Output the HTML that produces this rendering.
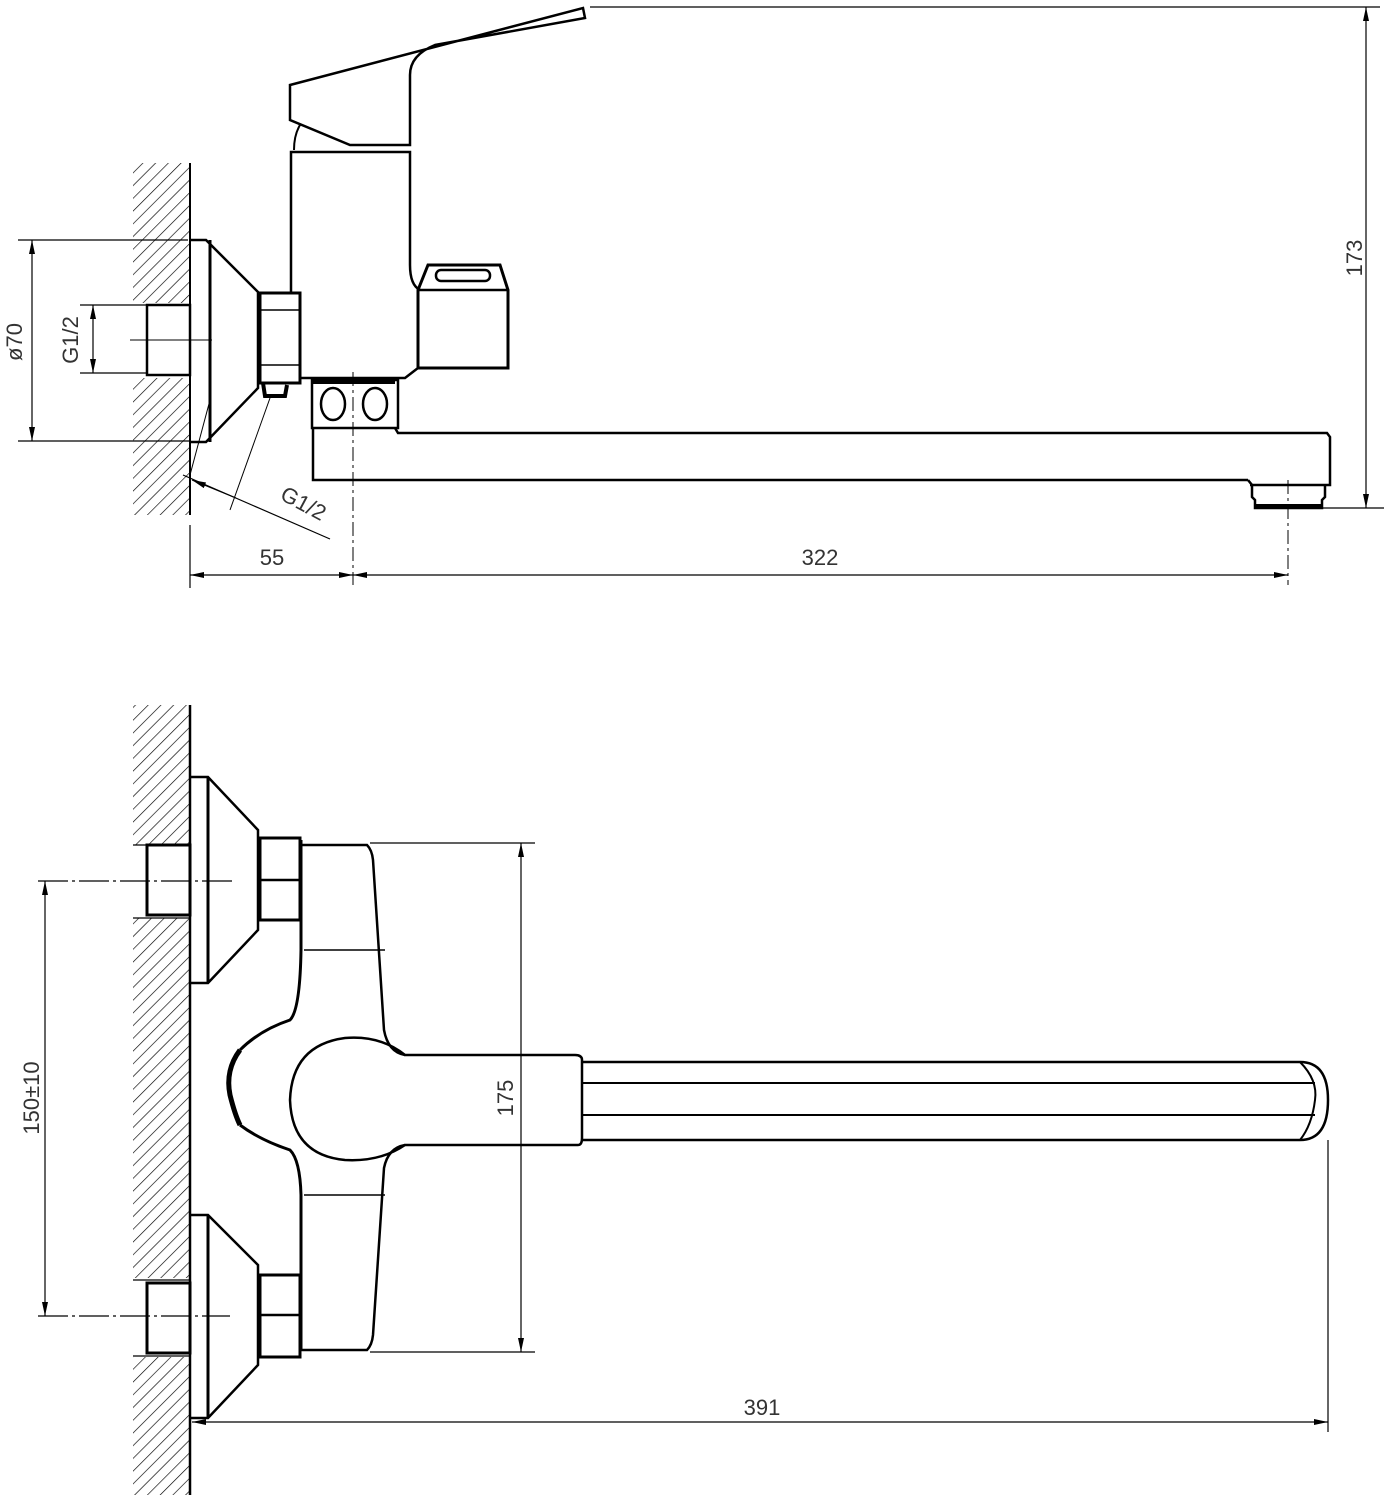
<!DOCTYPE html>
<html><head><meta charset="utf-8"><style>html,body{margin:0;padding:0;background:#fff}svg{display:block}</style></head>
<body>
<svg width="1393" height="1500" viewBox="0 0 1393 1500" xmlns="http://www.w3.org/2000/svg" font-family="Liberation Sans, sans-serif">
<defs>
<pattern id="h" patternUnits="userSpaceOnUse" width="9" height="9" patternTransform="rotate(45)">
<line x1="0" y1="0" x2="0" y2="9" stroke="#000" stroke-width="1.3"/>
</pattern>
<marker id="a" markerWidth="14" markerHeight="8" refX="14" refY="4" orient="auto" markerUnits="userSpaceOnUse"><path d="M0,1 L14,4 L0,7 z" fill="#000"/></marker>
<marker id="b" markerWidth="14" markerHeight="8" refX="0" refY="4" orient="auto" markerUnits="userSpaceOnUse"><path d="M14,1 L0,4 L14,7 z" fill="#000"/></marker>
</defs>
<g fill="none" stroke="#000">
<!-- TOP VIEW -->
<rect x="133" y="163" width="57" height="140" fill="url(#h)" stroke="none"/>
<rect x="133" y="378" width="57" height="137" fill="url(#h)" stroke="none"/>
<line x1="190" y1="163" x2="190" y2="515" stroke-width="2"/>
<rect x="147" y="305" width="43" height="70" stroke-width="2.5"/>
<line x1="130" y1="340" x2="212" y2="340" stroke-width="1"/>
<path d="M190,240 H206 L258,292 V388 L206,442 H190" stroke-width="2.5"/>
<line x1="210" y1="240" x2="210" y2="442" stroke-width="3"/>
<rect x="260" y="293" width="40" height="90" stroke-width="3"/>
<line x1="260" y1="310" x2="300" y2="310" stroke-width="1.5"/>
<line x1="260" y1="365" x2="300" y2="365" stroke-width="1.5"/>
<path d="M263,383 L265,396 L285,396 L287,385" stroke-width="4"/>
<path d="M291,293 V152 H410 V265 Q410,285 420,290" stroke-width="2.5"/>
<path d="M300,378 H405 L418,368" stroke-width="2.5"/>
<path d="M290,85 L583,8 L585,18 L435,45 Q410,55 410,75 V145 H350 L290,120 Z" stroke-width="2.5"/>
<path d="M300,125 Q294,135 294,150" stroke-width="2"/>
<path d="M418,290 L428,265 H500 L508,290 V368 H418 Z" stroke-width="3"/>
<line x1="418" y1="290" x2="508" y2="290" stroke-width="2.5"/>
<rect x="436" y="270" width="54" height="11" rx="5" stroke-width="2.5"/>
<rect x="312" y="380" width="86" height="48" stroke-width="2.5"/>
<line x1="313" y1="382" x2="395" y2="382" stroke-width="4"/>
<ellipse cx="333" cy="404" rx="12" ry="16" stroke-width="2.5"/>
<ellipse cx="375" cy="404" rx="12" ry="16" stroke-width="2.5"/>
<line x1="353" y1="372" x2="353" y2="585" stroke-width="1" stroke-dasharray="14,4,3,4"/>
<path d="M395,428 L398,433 H1327 L1330,437 V485 H1250" stroke-width="2.5"/>
<path d="M313,428 V480 H1248" stroke-width="2.5"/>
<path d="M1248,480 L1252,485 V497 L1255,500 V508 H1322 V500 L1325,497 V485" stroke-width="2.5"/>
<line x1="1255" y1="506" x2="1322" y2="506" stroke-width="4"/>
<line x1="1288" y1="480" x2="1288" y2="585" stroke-width="1" stroke-dasharray="14,4,3,4"/>
<line x1="590" y1="7" x2="1380" y2="7" stroke-width="1.2"/>
<line x1="1322" y1="508" x2="1384" y2="508" stroke-width="1.2"/>
<line x1="1366" y1="7" x2="1366" y2="508" stroke-width="1.2" marker-start="url(#b)" marker-end="url(#a)"/>
<line x1="18" y1="240" x2="188" y2="240" stroke-width="1.2"/>
<line x1="18" y1="441" x2="190" y2="441" stroke-width="1.2"/>
<line x1="32" y1="240" x2="32" y2="441" stroke-width="1.2" marker-start="url(#b)" marker-end="url(#a)"/>
<line x1="80" y1="305" x2="147" y2="305" stroke-width="1.2"/>
<line x1="80" y1="373" x2="147" y2="373" stroke-width="1.2"/>
<line x1="93" y1="305" x2="93" y2="373" stroke-width="1.2" marker-start="url(#b)" marker-end="url(#a)"/>
<line x1="183" y1="475" x2="330" y2="539" stroke-width="1.2"/>
<line x1="210" y1="400" x2="190" y2="475" stroke-width="1"/>
<line x1="270" y1="398" x2="230" y2="510" stroke-width="1"/>
<line x1="236" y1="498" x2="192" y2="480" stroke-width="1.2" marker-end="url(#a)"/>
<line x1="190" y1="525" x2="190" y2="588" stroke-width="1.2"/>
<line x1="190" y1="575" x2="353" y2="575" stroke-width="1.2" marker-start="url(#b)" marker-end="url(#a)"/>
<line x1="353" y1="575" x2="1288" y2="575" stroke-width="1.2" marker-start="url(#b)" marker-end="url(#a)"/>

<!-- BOTTOM VIEW -->
<rect x="133" y="705" width="57" height="140" fill="url(#h)" stroke="none"/>
<rect x="133" y="918" width="57" height="360" fill="url(#h)" stroke="none"/>
<rect x="133" y="1357" width="57" height="138" fill="url(#h)" stroke="none"/>
<line x1="190" y1="705" x2="190" y2="1495" stroke-width="2.5"/>
<rect x="147" y="845" width="43" height="70" stroke-width="3"/>
<rect x="147" y="1283" width="43" height="70" stroke-width="3"/>
<line x1="133" y1="845" x2="190" y2="845" stroke-width="1.2"/>
<line x1="133" y1="918" x2="190" y2="918" stroke-width="1.2"/>
<line x1="133" y1="1280" x2="190" y2="1280" stroke-width="1.2"/>
<line x1="133" y1="1356" x2="190" y2="1356" stroke-width="1.2"/>
<path d="M190,777 H208 L258,830 V930 L208,983 H190" stroke-width="2.5"/>
<line x1="208" y1="777" x2="208" y2="983" stroke-width="3"/>
<path d="M190,1215 H208 L258,1265 V1365 L208,1418 H190" stroke-width="2.5"/>
<line x1="208" y1="1215" x2="208" y2="1418" stroke-width="3"/>
<rect x="260" y="838" width="40" height="82" stroke-width="3"/>
<line x1="260" y1="880" x2="300" y2="880" stroke-width="2.5"/>
<rect x="260" y="1275" width="40" height="82" stroke-width="3"/>
<line x1="260" y1="1315" x2="300" y2="1315" stroke-width="2.5"/>
<path d="M301,840 V950 Q300,1010 290,1020 Q260,1030 240,1050" stroke-width="3"/>
<path d="M301,1350 V1195 Q300,1160 290,1150 Q260,1140 240,1125" stroke-width="3"/>
<path d="M240,1050 Q225,1070 230,1095 Q235,1115 240,1125" stroke-width="5"/>
<path d="M301,845 H367 Q372,850 373,860 L384,1030 Q388,1052 405,1055" stroke-width="2.5"/>
<path d="M301,1350 H367 Q372,1345 373,1335 L384,1168 Q388,1148 405,1145" stroke-width="2.5"/>
<line x1="304" y1="950" x2="385" y2="950" stroke-width="1.5"/>
<line x1="304" y1="1195" x2="385" y2="1195" stroke-width="1.5"/>
<path d="M405,1055 Q380,1035 345,1038 Q292,1045 290,1100 Q292,1155 345,1160 Q380,1162 405,1145 H578 Q582,1145 582,1138 V1060 Q582,1055 575,1055 Z" stroke-width="2.5"/>
<path d="M582,1062 H1300 Q1328,1062 1328,1100 Q1328,1140 1300,1140 H582" stroke-width="2.5"/>
<path d="M1300,1062 Q1318,1080 1315,1100 Q1312,1125 1300,1140" stroke-width="2"/>
<line x1="582" y1="1083" x2="1315" y2="1083" stroke-width="2"/>
<line x1="582" y1="1115" x2="1315" y2="1115" stroke-width="2"/>
<line x1="370" y1="843" x2="535" y2="843" stroke-width="1.2"/>
<line x1="370" y1="1352" x2="535" y2="1352" stroke-width="1.2"/>
<line x1="521" y1="843" x2="521" y2="1352" stroke-width="1.2" marker-start="url(#b)" marker-end="url(#a)"/>
<line x1="38" y1="881" x2="235" y2="881" stroke-width="1.2" stroke-dasharray="30,4,3,4"/>
<line x1="38" y1="1316" x2="230" y2="1316" stroke-width="1.2" stroke-dasharray="30,4,3,4"/>
<line x1="45" y1="881" x2="45" y2="1316" stroke-width="1.2" marker-start="url(#b)" marker-end="url(#a)"/>
<line x1="1328" y1="1140" x2="1328" y2="1432" stroke-width="1.2"/>
<line x1="192" y1="1422" x2="1328" y2="1422" stroke-width="1.2" marker-start="url(#b)" marker-end="url(#a)"/>
</g>
<g fill="#333" font-size="22">
<text x="1362" y="258" text-anchor="middle" transform="rotate(-90 1362 258)">173</text>
<text x="22" y="342" text-anchor="middle" transform="rotate(-90 22 342)">ø70</text>
<text x="78" y="340" text-anchor="middle" transform="rotate(-90 78 340)">G1/2</text>
<text x="300" y="510" text-anchor="middle" transform="rotate(28 300 510)">G1/2</text>
<text x="272" y="565" text-anchor="middle">55</text>
<text x="820" y="565" text-anchor="middle">322</text>
<text x="513" y="1098" text-anchor="middle" transform="rotate(-90 513 1098)">175</text>
<text x="39" y="1098" text-anchor="middle" transform="rotate(-90 39 1098)">150±10</text>
<text x="762" y="1415" text-anchor="middle">391</text>
</g>
</svg>
</body></html>
